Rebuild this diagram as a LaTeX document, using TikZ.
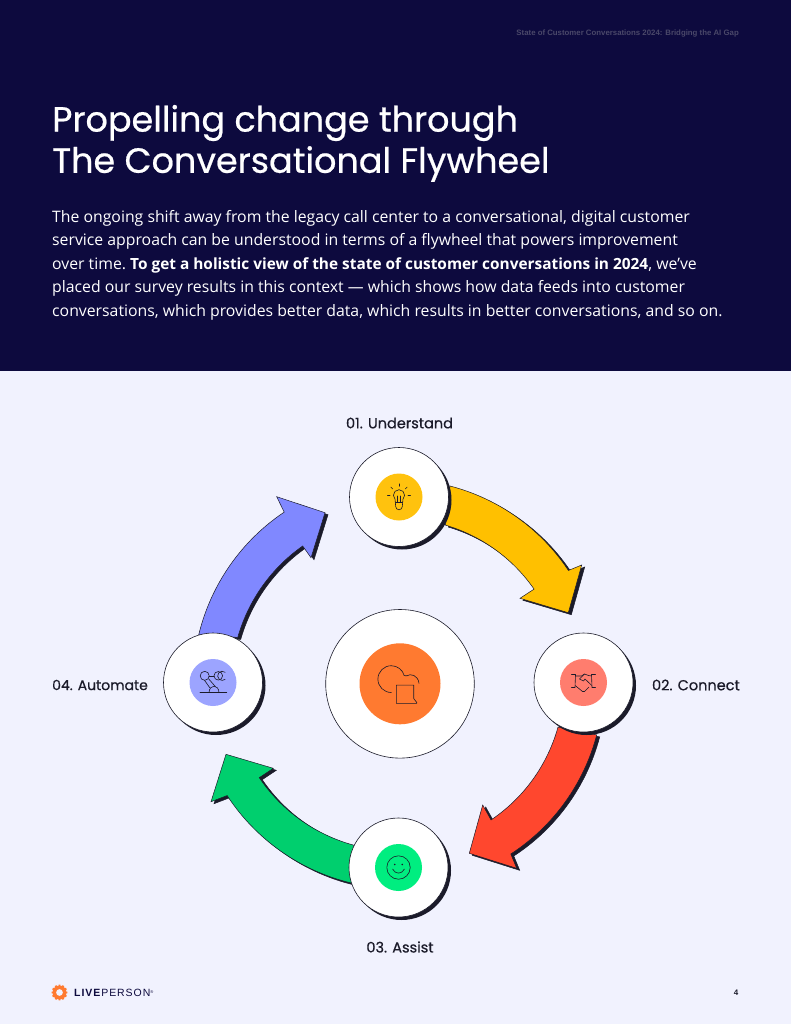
\documentclass[tikz,border=0pt]{standalone}
\usepackage{fontspec}
\setmainfont{Liberation Sans}
\newfontfamily\titlefont[FakeBold=0.6]{Poppins}
\newfontfamily\labelfont[FakeBold=0.6]{Poppins}
\newfontfamily\bodyfont{Open Sans}
\usetikzlibrary{calc}
\definecolor{navy}{HTML}{0D0A3E}
\definecolor{pagebg}{HTML}{F1F2FE}
\definecolor{ink}{HTML}{1B1B2A}
\definecolor{ayellow}{HTML}{FFC000}
\definecolor{ared}{HTML}{FF472E}
\definecolor{agreen}{HTML}{00CF6E}
\definecolor{ablue}{HTML}{8088FF}
\definecolor{dyellow}{HTML}{FFC20E}
\definecolor{dred}{HTML}{FF7D6E}
\definecolor{dgreen}{HTML}{00EE80}
\definecolor{dblue}{HTML}{9CA4FF}
\definecolor{dorange}{HTML}{FF7A30}
\definecolor{headgrey}{HTML}{4A4869}
\tikzset{
  x=1pt,y=1pt,
  disc/.style={circle,draw=ink,line width=0.6pt,fill=white,minimum size=99pt,inner sep=0pt},
  discshadow/.style={circle,fill=ink,minimum size=99pt,inner sep=0pt},
  badge/.style={circle,minimum size=47pt,inner sep=0pt},
  steplabel/.style={font=\labelfont\fontsize{14.5}{16}\selectfont,text=ink,inner sep=0pt},
  bodyline/.style={anchor=west,text=white,inner sep=0pt,font=\frenchspacing\bodyfont\fontsize{15.8}{18}\selectfont},
  titleline/.style={anchor=west,text=white,inner sep=0pt,font=\titlefont\fontsize{35}{40}\selectfont},
  icon/.style={draw=ink,line width=0.6pt,fill=none,line join=round,line cap=round},
  paint/.code={\ifnum\sh=1 \tikzset{fill=ink}\else\tikzset{fill=#1}\fi\tikzset{draw=ink,line width=0.5pt}},
}
\begin{document}
\begin{tikzpicture}
\useasboundingbox (0,-1024) rectangle (791,0);
\fill[pagebg] (0,-1024) rectangle (791,0);
\fill[navy] (0,-371) rectangle (791,0);
\node[anchor=east,inner sep=0pt,text=headgrey,font=\bfseries\fontsize{7.82}{10}\selectfont] (hdr) at (739,-33.5) {State of Customer Conversations 2024: Bridging the AI Gap};
\node[titleline] (t1) at (52,-123) {Propelling change through};
\node[titleline] (t2) at (52,-164) {The Conversational Flywheel};
\node[bodyline] (b1) at (52,-218) {The ongoing shift away from the legacy call center to a conversational, digital customer};
\node[bodyline] (b2) at (52,-241.5) {service approach can be understood in terms of a flywheel that powers improvement};
\node[bodyline] (b3) at (52,-265) {over time. {\bfseries\fontsize{15.4}{18}\selectfont To get a holistic view of the state of customer conversations in 2024}, we’ve};
\node[bodyline] (b4) at (52,-288.5) {placed our survey results in this context — which shows how data feeds into customer};
\node[bodyline] (b5) at (52,-312) {conversations, which provides better data, which results in better conversations, and so on.};

% arrows about the ring centre
\begin{scope}[shift={(399,-683)}]
\foreach \dx/\dy/\sh in {3/-2/1,0/0/0}{
 \begin{scope}[shift={(\dx,\dy)}]
  \path[paint=ayellow] (75.5:203.5) arc[start angle=75.5,end angle=33.5,radius=203] -- (182.7,118) -- (169.3,70.3) -- (121,84.7) -- (34.8:164.5) arc[start angle=34.8,end angle=73.5,radius=165] -- cycle;
  \path[paint=ared] (-14.7:204.4) arc[start angle=-14.7,end angle=-56.9,radius=204] -- (117.7,-185.3) -- (70.3,-170.3) -- (83.7,-122) -- (-56.1:165) arc[start angle=-56.1,end angle=-15.5,radius=165] -- cycle;
  \path[paint=agreen] (257:205.6) arc[start angle=257,end angle=213.1,radius=205] -- (-188,-118.7) -- (-173,-71.3) -- (-125.7,-85.3) -- (214.1:168.8) arc[start angle=214.1,end angle=254.7,radius=167] -- cycle;
  \path[paint=ablue] (166.5:206) arc[start angle=166.5,end angle=123.8,radius=205.5] -- (-122.3,186.3) -- (-74,170.3) -- (-88,125.3) -- (125.1:167.5) arc[start angle=125.1,end angle=164.1,radius=168] -- cycle;
 \end{scope}
}
\end{scope}

% discs
\foreach \n/\cx/\cy in {top/399/-497,right/583.5/-682.5,bottom/398.5/-867.5,left/213/-682.5}{
  \node[discshadow] at (\cx+3,\cy-3) {};
  \node[disc] (\n) at (\cx,\cy) {};
}
\node[circle,draw=ink,line width=0.6pt,fill=white,minimum size=148.6pt,inner sep=0pt] (hub) at (400,-683.8) {};
\node[circle,fill=dorange,minimum size=81pt,inner sep=0pt] (hubb) at (hub.center) {};
\node[badge,fill=dyellow] (bt) at (top.center) {};
\node[badge,fill=dred] (br) at (right.center) {};
\node[badge,fill=dgreen] (bb) at (bottom.center) {};
\node[badge,fill=dblue] (bl) at (left.center) {};

% bulb icon
\begin{scope}[shift={(bt.center)}]
 \draw[icon] (-3.96,-2.26) arc[start angle=225,end angle=-45,radius=5.6] -- (3.3,-9.5) arc[start angle=0,end angle=-180,radius=3.3] -- cycle;
 \draw[icon] (-1.5,1) -- (-1.5,-5) (1.5,1) -- (1.5,-5) (-3.5,-5.5) -- (3.5,-5.5);
 \foreach \a in {0,45,90,135,180}{\draw[icon] ($(0,1.7)+(\a:9)$) -- ($(0,1.7)+(\a:11.5)$);}
\end{scope}
% handshake icon
\begin{scope}[shift={(br.center)}]
 \draw[icon] (-12,8) -- (-8,8) -- (-8.5,-5) -- (-12,-5) (12,8) -- (8,8) -- (8.5,-5) -- (12,-5);
 \draw[icon] (-8,6.5) -- (-2,6.5) -- (1,8.5) -- (5,7) -- (8,6.5);
 \draw[icon] (1,8.5) -- (-4,3.5) -- (0,1.5) -- (1.5,3.5) -- (8.3,-3);
 \draw[icon] (-8.3,-3) -- (-1,-9) -- (1,-9) -- (5.5,-4.5);
\end{scope}
% smiley icon
\begin{scope}[shift={(bb.center)}]
 \draw[icon] (0,0) circle[radius=11.7];
 \draw[icon] (-6,-1.5) .. controls (-3,-7) and (3,-7) .. (6,-1.5);
 \fill[ink] (-3.8,3) circle[radius=0.9] (3.8,3) circle[radius=0.9];
\end{scope}
% robot arm icon
\begin{scope}[shift={(bl.center)}]
 \draw[icon] (-13,-10) -- (13.7,-10);
 \draw[icon] (-4,-10) .. controls (-3.5,-1.5) and (5.5,-1.5) .. (6,-10);
 \draw[icon] (-8.3,6.7) circle[radius=4.5];
 \draw[icon] (5.3,6.7) circle[radius=4.3];
 \draw[icon] (-3.8,6.7) -- (1,6.7);
 \draw[icon] (12.2,10.2) arc[start angle=50,end angle=310,radius=4.6];
 \draw[icon] (-8.5,2.2) -- (-3.2,-5.2) (-4.5,3.8) -- (2.5,-4.2);
\end{scope}
% chat icon
\begin{scope}[shift={(hubb.center)}]
 \draw[icon] (-8.7,-8.7) arc[start angle=270,end angle=15,radius=13.4] -- (7,8) .. controls (10,10.5) and (18,9) .. (19,0.5);
 \draw[icon] (-3.6,-1.3) -- (13.7,-1.3) -- (13.7,-14.7) -- (17,-19) -- (16.5,-19.6) -- (-3.6,-19.6) -- cycle;
\end{scope}

% labels
\node[steplabel] (l1) at (399.5,-423) {01. Understand};
\node[steplabel,anchor=east] (l2) at (740,-685) {02. Connect};
\node[steplabel] (l3) at (400,-947) {03. Assist};
\node[steplabel,anchor=west,font=\labelfont\fontsize{14}{16}\selectfont] (l4) at (52,-685) {04. Automate};

% logo
\fill[dorange,even odd rule] (59.5,-992.5) circle[radius=7] (59.5,-992.5) circle[radius=3.5];
\foreach \a in {0,30,...,330}{\fill[dorange] ($(59.5,-992.5)+(\a-9:6)$) -- ($(59.5,-992.5)+(\a-7:8)$) -- ($(59.5,-992.5)+(\a+7:8)$) -- ($(59.5,-992.5)+(\a+9:6)$) -- cycle;}
\node[anchor=west,inner sep=0pt,text=navy,font=\fontsize{10.5}{12}\selectfont\addfontfeature{LetterSpace=9}] (logo) at (74,-992.5) {\textbf{LIVE}PERSON\raisebox{3pt}{\fontsize{4}{4}\selectfont ®}};
\node[inner sep=0pt,text=ink,font=\bfseries\fontsize{8}{10}\selectfont] (pg) at (736,-992.5) {4};
\end{tikzpicture}
\end{document}
